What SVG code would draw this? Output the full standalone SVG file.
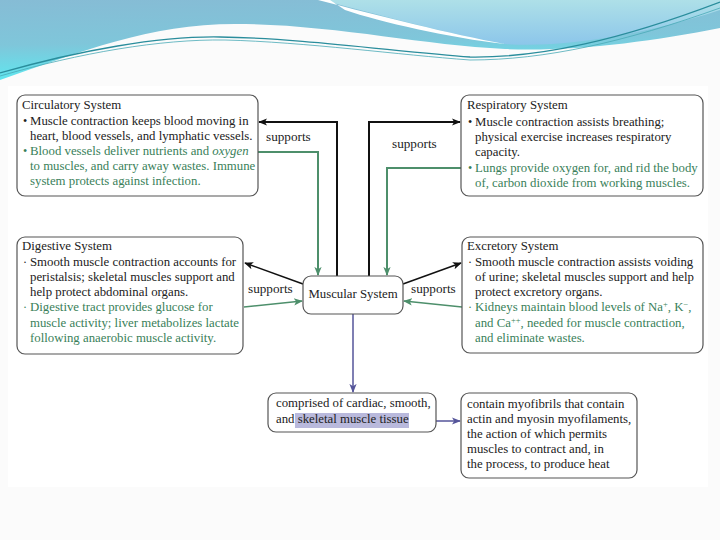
<svg xmlns="http://www.w3.org/2000/svg" width="720" height="540" viewBox="0 0 720 540">
<defs>
<linearGradient id="gBlue" x1="0" y1="0" x2="0.15" y2="1">
<stop offset="0" stop-color="#86bcd5"/>
<stop offset="0.55" stop-color="#7fc6da"/>
<stop offset="1" stop-color="#5ee8f0"/>
</linearGradient>
<linearGradient id="gLight" x1="0" y1="0" x2="0" y2="1">
<stop offset="0" stop-color="#aee0e8"/>
<stop offset="1" stop-color="#8cc6ea"/>
</linearGradient>
<marker id="aBlack" viewBox="0 0 10 10" refX="9" refY="5" markerWidth="9" markerHeight="9" markerUnits="userSpaceOnUse" orient="auto">
<path d="M0,1 L10,5 L0,9 L2.5,5 Z" fill="#111"/>
</marker>
<marker id="aGreen" viewBox="0 0 10 10" refX="9" refY="5" markerWidth="9" markerHeight="9" markerUnits="userSpaceOnUse" orient="auto">
<path d="M0,1 L10,5 L0,9 L2.5,5 Z" fill="#4d8f6b"/>
</marker>
<marker id="aPurple" viewBox="0 0 10 10" refX="9" refY="5" markerWidth="9" markerHeight="9" markerUnits="userSpaceOnUse" orient="auto">
<path d="M0,1 L10,5 L0,9 L2.5,5 Z" fill="#55559a"/>
</marker>
</defs>
<style>
text{font-family:"Liberation Serif","DejaVu Serif",serif;font-size:12.8px;fill:#222}
.g{fill:#3a7f5a}
.box{fill:#fff;stroke:#555;stroke-width:1.2}
.blk{fill:none;stroke:#111;stroke-width:2;marker-end:url(#aBlack)}
.blk1{fill:none;stroke:#111;stroke-width:1.5;marker-end:url(#aBlack)}
.grn{fill:none;stroke:#4d8f6b;stroke-width:2;marker-end:url(#aGreen)}
.grn1{fill:none;stroke:#4d8f6b;stroke-width:1.5;marker-end:url(#aGreen)}
.pur{fill:none;stroke:#55559a;stroke-width:1.5;marker-end:url(#aPurple)}
.lbl{font-size:13.2px}
.b{font-size:12px}
</style>
<rect x="0" y="0" width="720" height="540" fill="#fbfbfb"/>
<rect x="8" y="86" width="700" height="401" fill="#ffffff"/>
<g id="header">
<path d="M0,0 L720,0 L720,28 C650,42 570,52 505,49 C420,45 330,24 235,24 C150,24 80,52 0,80 Z" fill="url(#gBlue)"/>
<path d="M322,0 C390,18 450,34 505,44 C560,48 640,36 720,10 L720,0 Z" fill="url(#gLight)"/>
<path d="M318,0 C380,16 450,34 505,44 C450,38 380,22 345,10 L330,0 Z" fill="#ffffff"/>
<path d="M0,73 C80,50 160,36 220,37 C300,38 400,52 470,57 C540,58 620,40 720,2" fill="none" stroke="#2a8d9c" stroke-width="1.3"/>
<path d="M0,76 C80,53 160,39 225,40 C305,42 400,55 470,60 C545,60 625,42 720,8" fill="none" stroke="#49a9b6" stroke-width="0.8"/>
</g>
<g id="connectors">
<path class="blk" d="M337,276 L337,122 L259,122"/>
<path class="grn" d="M258,152 L318,152 L318,275"/>
<path class="blk" d="M369,276 L369,122 L460,122"/>
<path class="grn" d="M461,168 L387,168 L387,275"/>
<path class="blk1" d="M303,284 L245,263"/>
<path class="grn1" d="M244,307 L302,301"/>
<path class="blk1" d="M403,284 L461,263"/>
<path class="grn1" d="M462,307 L404,301"/>
<path class="pur" d="M353,314 L353,392"/>
<path class="pur" d="M409,421 L460,421"/>
<text x="266" y="141" class="lbl">supports</text>
<text x="392" y="148" class="lbl">supports</text>
<text x="248" y="293" class="lbl">supports</text>
<text x="411" y="293" class="lbl">supports</text>
</g>
<g id="circulatory">
<rect class="box" x="17" y="95" width="241" height="101" rx="8"/>
<text x="22" y="109">Circulatory System</text>
<text x="23" y="125" class="b">•</text>
<text x="30" y="125">Muscle contraction keeps blood moving in</text>
<text x="30" y="140">heart, blood vessels, and lymphatic vessels.</text>
<text x="23" y="155" class="g b">•</text>
<text x="30" y="155" class="g">Blood vessels deliver nutrients and <tspan font-style="italic">oxygen</tspan></text>
<text x="30" y="170" class="g">to muscles, and carry away wastes. Immune</text>
<text x="30" y="185" class="g">system protects against infection.</text>
</g>
<g id="respiratory">
<rect class="box" x="461" y="95" width="242" height="101" rx="8"/>
<text x="467" y="109">Respiratory System</text>
<text x="468" y="126" class="b">•</text>
<text x="475" y="126">Muscle contraction assists breathing;</text>
<text x="475" y="141">physical exercise increases respiratory</text>
<text x="475" y="156">capacity.</text>
<text x="468" y="172" class="g b">•</text>
<text x="475" y="172" class="g">Lungs provide oxygen for, and rid the body</text>
<text x="475" y="187" class="g">of, carbon dioxide from working muscles.</text>
</g>
<g id="digestive">
<rect class="box" x="17" y="237" width="226" height="117" rx="8"/>
<text x="22" y="250">Digestive System</text>
<text x="23" y="266" class="b">·</text>
<text x="30" y="266">Smooth muscle contraction accounts for</text>
<text x="30" y="281">peristalsis; skeletal muscles support and</text>
<text x="30" y="296">help protect abdominal organs.</text>
<text x="23" y="311" class="g b">·</text>
<text x="30" y="311" class="g">Digestive tract provides glucose for</text>
<text x="30" y="327" class="g">muscle activity; liver metabolizes lactate</text>
<text x="30" y="342" class="g">following anaerobic muscle activity.</text>
</g>
<g id="excretory">
<rect class="box" x="462" y="237" width="241" height="116" rx="8"/>
<text x="467" y="250">Excretory System</text>
<text x="468" y="266" class="b">·</text>
<text x="475" y="266">Smooth muscle contraction assists voiding</text>
<text x="475" y="281">of urine; skeletal muscles support and help</text>
<text x="475" y="296">protect excretory organs.</text>
<text x="468" y="311" class="g b">·</text>
<text x="475" y="311" class="g">Kidneys maintain blood levels of Na<tspan font-size="8.5" dy="-4">+</tspan><tspan dy="4">, K</tspan><tspan font-size="8.5" dy="-4">−</tspan><tspan dy="4">,</tspan></text>
<text x="475" y="327" class="g">and Ca<tspan font-size="8.5" dy="-4">++</tspan><tspan dy="4">, needed for muscle contraction,</tspan></text>
<text x="475" y="342" class="g">and eliminate wastes.</text>
</g>
<g id="muscular">
<rect class="box" x="303" y="276" width="100" height="38" rx="8"/>
<text x="353" y="298" text-anchor="middle">Muscular System</text>
</g>
<g id="comprised">
<rect class="box" x="268" y="393" width="168" height="39" rx="8"/>
<rect x="295" y="413" width="114" height="15" fill="#b9b9dc"/>
<text x="276" y="407">comprised of cardiac, smooth,</text>
<text x="276" y="423">and skeletal muscle tissue</text>
</g>
<g id="contain">
<rect class="box" x="461" y="393" width="176" height="85" rx="8"/>
<text x="467" y="408">contain myofibrils that contain</text>
<text x="467" y="423">actin and myosin myofilaments,</text>
<text x="467" y="438">the action of which permits</text>
<text x="467" y="453">muscles to contract and, in</text>
<text x="467" y="468">the process, to produce heat</text>
</g>
</svg>
